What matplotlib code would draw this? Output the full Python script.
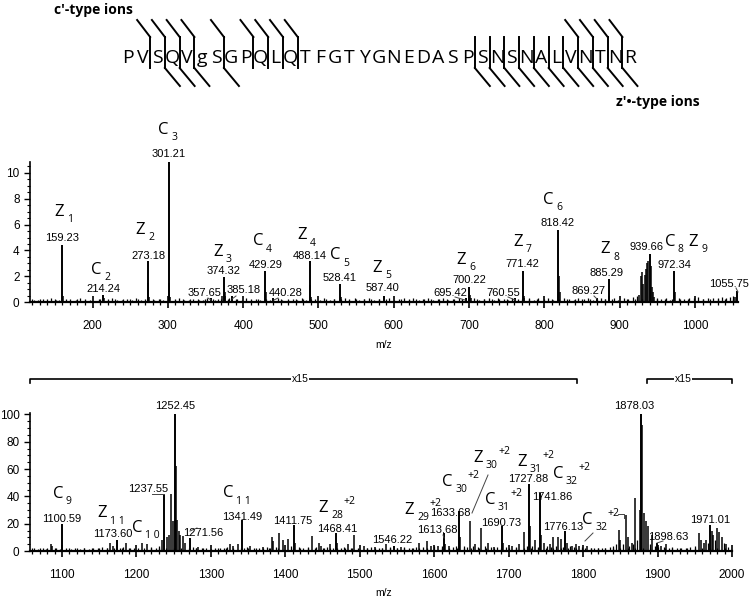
import matplotlib
matplotlib.use("Agg")
import matplotlib.pyplot as plt
from matplotlib import font_manager
from matplotlib.ticker import MultipleLocator

installed = {f.name for f in font_manager.fontManager.ttflist}
NUM_FONT = "Liberation Sans Narrow" if "Liberation Sans Narrow" in installed else "Liberation Sans"
ION_FONT = "Open Sans" if "Open Sans" in installed else "DejaVu Sans"

# ---------------- data ----------------
sequence = list("PVSQVgSGPQLQTFGTYGNEDASPSNSNALVNTNR")
c_sites = [1, 2, 3, 4, 6, 8, 9, 10, 11, 30, 31, 32, 33]
z_sites = [2, 3, 4, 6, 23, 24, 25, 26, 27, 28, 29, 30, 31, 32, 33]

# spectrum 1 (m/z 117-1057)
top_mz = [159.23, 214.24, 273.18, 301.21, 357.65, 374.32, 385.18, 429.29, 440.28,
          488.14, 528.41, 587.40, 695.42, 700.22, 760.55, 771.42, 818.42, 869.27,
          885.29, 939.66, 972.34, 1055.75]
top_int = [4.4, 0.6, 3.15, 10.8, 0.3, 1.95, 0.5, 2.45, 0.35,
           3.15, 1.45, 0.5, 0.3, 1.2, 0.3, 2.45, 5.55, 0.35,
           1.8, 3.75, 2.45, 0.9]
top_minor = [(160.2, .5), (215.2, .3), (274.2, 1.5), (275.2, .4), (302.2, 1.5), (303.2, .4),
             (372.3, .5), (375.3, .8), (376.3, .5), (430.3, .8), (489.1, 1.3), (490.1, .4),
             (529.4, .4), (701.2, .6), (702.2, .3), (772.4, .5), (773.4, .3), (819.4, 2.0),
             (820.4, .8), (886.3, .5), (926, .6), (928, 2.0), (929.5, 2.3), (931, 1.4),
             (933, 2.1), (935, 2.6), (936.5, 3.0), (938, 3.2), (941, 2.8), (942.5, 1.2),
             (944, .8), (946, .4), (973.3, .8), (1053, .4)]
top_noise = [(122, .2), (128, .15), (134, .25), (139, .1), (145, .3), (151, .15), (156, .2),
             (165, .25), (171, .1), (178, .2), (184, .3), (190, .15), (196, .2), (203, .1),
             (209, .25), (220, .2), (226, .3), (233, .15), (239, .2), (246, .25), (252, .15),
             (258, .3), (264, .2), (281, .2), (288, .25), (294, .15), (309, .2), (315, .3),
             (322, .15), (328, .2), (334, .25), (341, .2), (347, .15), (352, .3), (362, .2),
             (367, .25), (381, .3), (392, .25), (398, .2), (404, .3), (410, .15), (417, .25),
             (423, .2), (436, .2), (446, .3), (452, .2), (459, .15), (466, .25), (472, .2),
             (478, .3), (484, .2), (495, .25), (502, .2), (508, .3), (515, .15), (521, .25),
             (535, .3), (541, .2), (548, .35), (554, .2), (561, .25), (567, .3), (574, .2),
             (580, .25), (593, .3), (600, .2), (607, .25), (613, .35), (620, .2), (626, .3),
             (633, .2), (639, .25), (646, .3), (652, .2), (659, .25), (665, .3), (672, .2),
             (679, .25), (686, .3), (691, .25), (707, .3), (713, .2), (720, .25), (726, .35),
             (733, .2), (739, .3), (746, .25), (752, .2), (757, .3), (765, .25), (779, .3),
             (786, .2), (792, .3), (799, .25), (805, .35), (812, .2), (826, .3), (832, .25),
             (839, .2), (845, .3), (852, .25), (858, .35), (864, .2), (875, .3), (880, .25),
             (892, .3), (898, .2), (905, .35), (911, .25), (918, .4), (923, .5), (949, .3),
             (955, .25), (962, .3), (967, .2), (979, .3), (985, .25), (992, .35), (998, .3),
             (1004, .4), (1011, .25), (1017, .3), (1024, .35), (1030, .3), (1036, .4),
             (1041, .35), (1046, .4), (1050, .45)]

# spectrum 2 (m/z 1057-2000)
bot_mz = [1100.59, 1173.60, 1237.55, 1252.45, 1271.56, 1341.49, 1411.75, 1468.41, 1546.22,
          1613.68, 1633.68, 1690.73, 1727.88, 1741.86, 1776.13, 1878.03, 1898.63, 1971.01]
bot_int = [20, 8, 41.5, 100, 9.8, 22.4, 18.9, 12.9, 4,
           13.4, 29, 18, 48.7, 42.7, 15, 100, 6, 19.3]
bot_minor = [(1085, 5), (1087, 4), (1165, 6), (1168, 4), (1186, 6), (1208, 6), (1214, 5),
             (1234, 8), (1241, 10), (1244, 12), (1246.5, 42), (1249, 22), (1253.5, 62),
             (1255, 23), (1257, 15), (1259, 12), (1262, 11), (1265, 6), (1283, 3), (1326, 5),
             (1330, 4), (1336, 5), (1352, 4), (1370, 3), (1382, 10), (1384, 7), (1392, 13),
             (1397, 8), (1403, 9), (1413, 6), (1436, 11), (1445, 6), (1448, 4), (1460, 5),
             (1470, 6), (1484, 5), (1492, 12), (1505, 4), (1520, 3), (1535, 5), (1555, 3),
             (1580, 6), (1590, 7), (1596, 4), (1605, 4), (1615, 5), (1620, 4), (1635, 10),
             (1648, 22), (1655, 5), (1663, 17), (1672, 6), (1680, 3), (1692, 6), (1705, 4),
             (1714, 5), (1720, 14), (1729, 18), (1735, 8), (1743, 12), (1748, 6), (1755, 5),
             (1760, 10), (1766, 10), (1770, 9), (1778, 6), (1785, 4), (1790, 5), (1795, 4),
             (1805, 4), (1848, 15.5), (1850, 8), (1857, 26.5), (1860, 10), (1865, 6),
             (1870, 39), (1876, 30), (1879, 92), (1882, 28), (1885, 22), (1887, 18),
             (1893, 12), (1905, 4), (1912, 5), (1955, 13.4), (1958, 8), (1962, 6), (1965, 8),
             (1973, 15), (1975, 12), (1980, 17), (1983, 14), (1986, 10), (1992, 5)]
bot_noise = [(1062, 2), (1068, 1.5), (1074, 2.5), (1079, 1.5), (1092, 2), (1097, 1.5),
             (1106, 2), (1112, 1.5), (1118, 2.5), (1124, 1.5), (1130, 2), (1136, 1.5),
             (1142, 2.5), (1148, 2), (1154, 3), (1160, 2), (1178, 2.5), (1182, 3), (1192, 2),
             (1197, 2.5), (1202, 2), (1220, 3), (1226, 2.5), (1230, 4), (1276, 3), (1280, 2),
             (1288, 2.5), (1294, 2), (1300, 1.5), (1306, 2), (1312, 2.5), (1318, 2), (1322, 3),
             (1345, 2.5), (1348, 3), (1358, 2), (1364, 2.5), (1375, 3), (1378, 2), (1388, 3),
             (1408, 4), (1418, 3), (1424, 2), (1430, 3), (1441, 3), (1452, 2.5), (1456, 3),
             (1464, 2), (1475, 2.5), (1479, 3), (1488, 2), (1498, 2.5), (1510, 2), (1515, 3),
             (1526, 2.5), (1530, 2), (1540, 3), (1550, 2.5), (1560, 3), (1566, 2), (1572, 2.5),
             (1576, 3), (1585, 3), (1600, 3.5), (1610, 4), (1625, 3), (1629, 4), (1640, 4),
             (1644, 3), (1652, 4), (1659, 3), (1668, 4), (1676, 3), (1684, 3), (1697, 3),
             (1701, 2.5), (1710, 3), (1724, 4), (1732, 4), (1739, 3), (1751, 4), (1757, 3),
             (1763, 4), (1773, 3), (1782, 4), (1788, 3), (1798, 3), (1802, 2.5), (1810, 2),
             (1815, 2.5), (1820, 2), (1826, 2.5), (1830, 2), (1836, 3), (1840, 4), (1844, 5),
             (1853, 5), (1862, 4), (1867, 5), (1873, 8), (1890, 5), (1896, 4), (1901, 3),
             (1908, 3), (1916, 2.5), (1920, 3), (1926, 2), (1932, 2.5), (1938, 2), (1944, 3),
             (1950, 4), (1968, 6), (1977, 8), (1989, 6), (1995, 3)]
x15_ranges = [(1057, 1792), (1886, 2000)]
x15_label_mz = [1420, 1934]

# ---------------- layout (figure pixels) ----------------
top_num_pos = [(62, 238), (103, 289), (148, 256), (169, 154), (204, 293), (224, 271),
               (244, 290), (266, 265), (286, 293), (310, 256), (340, 278), (382, 288),
               (450, 293), (469, 280), (503, 293), (522, 264), (558, 223), (588, 291),
               (607, 273), (647, 247), (674, 265), (729, 284)]
bot_num_pos = [(62, 519), (113, 534), (148, 489), (175, 406), (203, 533), (242, 517),
               (293, 521), (337, 529), (392, 540), (437, 530), (450, 513), (501, 523),
               (528, 479), (552, 497), (563, 527), (634, 406), (668, 537), (710, 520)]
top_ions = [("Z", "1", None, 59, 212), ("C", "2", None, 96, 270), ("Z", "2", None, 140, 230),
            ("C", "3", None, 163, 130), ("Z", "3", None, 218, 252), ("C", "4", None, 258, 241),
            ("Z", "4", None, 302, 235), ("C", "5", None, 335, 255), ("Z", "5", None, 377, 268),
            ("Z", "6", None, 461, 260), ("Z", "7", None, 518, 242), ("C", "6", None, 548, 200),
            ("Z", "8", None, 605, 249), ("C", "8", None, 670, 242), ("Z", "9", None, 693, 242)]
bot_ions = [("C", "9", None, 58, 494), ("Z", "1 1", None, 102, 513), ("C", "1 0", None, 137, 528),
            ("C", "1 1", None, 228, 493), ("Z", "28", "+2", 323, 508), ("Z", "29", "+2", 409, 510),
            ("C", "30", "+2", 447, 482), ("Z", "30", "+2", 478, 458), ("C", "31", "+2", 490, 500),
            ("Z", "31", "+2", 522, 462), ("C", "32", "+2", 558, 474), ("C", "32", "+2", 587, 520)]
leaders = [[(208, 298), (211, 300)], [(236, 296), (232, 299)], [(278, 298), (274, 300)],
           [(455, 297), (465, 300)], [(508, 297), (515, 300)], [(594, 296), (597, 299)],
           [(736, 288), (738, 292)],
           [(152, 494), (164, 494)], [(197, 528), (190, 531)], [(443, 535), (444, 538)],
           [(488, 475), (472, 513)], [(585, 541), (593, 533)], [(618, 514), (624, 514), (624, 518)],
           [(663, 541), (657, 543)]]

fig = plt.figure(figsize=(7.5, 6.02), dpi=100)
W, H = 750.0, 602.0


def box(left, top, right, bottom):
    return [left / W, 1 - bottom / H, (right - left) / W, (bottom - top) / H]


ax1 = fig.add_axes(box(30, 161.7, 738, 302.3))
ax2 = fig.add_axes(box(30, 413, 732, 551))


def draw_spectrum(ax, mz, inten, minor, noise):
    ax.vlines([m for m, h in noise], 0, [h for m, h in noise], color="black", lw=0.9)
    ax.vlines([m for m, h in minor], 0, [h for m, h in minor], color="black", lw=1.1)
    ax.vlines(mz, 0, inten, color="black", lw=1.4)


draw_spectrum(ax1, top_mz, top_int, top_minor, top_noise)
draw_spectrum(ax2, bot_mz, bot_int, bot_minor, bot_noise)

for ax, xlim, ylim, ymaj, ymin in [(ax1, (117, 1057), (0, 10.85), 2, 0.5),
                                    (ax2, (1057, 2000), (0, 101), 20, 5)]:
    ax.set_xlim(*xlim)
    ax.set_ylim(*ylim)
    ax.set_facecolor("none")
    for s in ("top", "right"):
        ax.spines[s].set_visible(False)
    ax.spines["left"].set_linewidth(1.2)
    ax.spines["bottom"].set_linewidth(1.6)
    ax.xaxis.set_major_locator(MultipleLocator(100))
    ax.xaxis.set_minor_locator(MultipleLocator(10))
    ax.yaxis.set_major_locator(MultipleLocator(ymaj))
    ax.yaxis.set_minor_locator(MultipleLocator(ymin))
    ax.tick_params(axis="x", which="major", direction="inout", length=8, width=1.2, pad=9)
    ax.tick_params(axis="x", which="minor", direction="inout", length=5, width=0.9)
    ax.tick_params(axis="y", which="major", direction="out", length=4, width=1)
    ax.tick_params(axis="y", which="minor", direction="out", length=2.5, width=0.8)
    for lab in ax.get_xticklabels() + ax.get_yticklabels():
        lab.set_fontfamily(NUM_FONT)
        lab.set_fontsize(8.5)

ax1.set_xticks([200, 300, 400, 500, 600, 700, 800, 900, 1000])
ax1.set_xticklabels(["200", "300", "400", "500", "600", "700", "800", "900", "1000"],
                    fontfamily=NUM_FONT, fontsize=8.5)

# x15 brackets
tr = ax2.get_xaxis_transform()
for (lo, hi), xm in zip(x15_ranges, x15_label_mz):
    ax2.plot([lo, lo, hi, hi], [1.215, 1.245, 1.245, 1.215], transform=tr, color="black",
             lw=1.2, clip_on=False)
    ax2.text(xm, 1.245, "x15", transform=tr, ha="center", va="center", fontsize=7.5,
             family=NUM_FONT, bbox=dict(facecolor="white", edgecolor="none", pad=0.6))

# overlay in figure pixels for header and annotations
ov = fig.add_axes([0, 0, 1, 1], zorder=5)
ov.set_xlim(0, W)
ov.set_ylim(H, 0)
ov.axis("off")

# peptide sequence with cleavage marks
x0, dx, yseq = 128, 14.76, 58
for i, aa in enumerate(sequence):
    ov.text(x0 + dx * i, yseq, aa, ha="center", va="center", fontsize=14, family=ION_FONT)
for i in sorted(set(c_sites) | set(z_sites)):
    xc = x0 + dx * (i + 0.5)
    ov.plot([xc, xc], [37, 68], color="black", lw=1.4)
    if i in c_sites:
        ov.plot([xc - 13, xc], [20, 37], color="black", lw=1.4)
    if i in z_sites:
        ov.plot([xc, xc + 15], [68, 86], color="black", lw=1.4)
ov.text(54, 10, "c\u2032-type ions", fontsize=10, fontweight="bold", va="center",
        family=[ION_FONT, "DejaVu Sans"])
ov.text(616, 102, "z\u2032\u2022-type ions", fontsize=10, fontweight="bold", va="center",
        family=[ION_FONT, "DejaVu Sans"])

for txt, (x, y) in zip(["%.2f" % m for m in top_mz], top_num_pos):
    ov.text(x, y, txt, ha="center", va="center", fontsize=8, family=NUM_FONT)
for txt, (x, y) in zip(["%.2f" % m for m in bot_mz], bot_num_pos):
    ov.text(x, y, txt, ha="center", va="center", fontsize=8, family=NUM_FONT)

for letter, sub, sup, x, y in top_ions + bot_ions:
    ov.text(x, y, letter, ha="center", va="center", fontsize=12, family=ION_FONT)
    ov.text(x + 8, y + 8, sub, ha="left", va="center", fontsize=7.5, family=ION_FONT)
    if sup:
        ov.text(x + 10 + 5 * len(sub), y - 6, sup, ha="left", va="center", fontsize=7.5,
                family=ION_FONT)

for seg in leaders:
    ov.plot([p[0] for p in seg], [p[1] for p in seg], color="#444444", lw=0.7)

ov.text(384, 345, "m/z", ha="center", va="center", fontsize=7.5, family=NUM_FONT)
ov.text(384, 593, "m/z", ha="center", va="center", fontsize=7.5, family=NUM_FONT)

fig.savefig("out.png", dpi=100, facecolor="white")
